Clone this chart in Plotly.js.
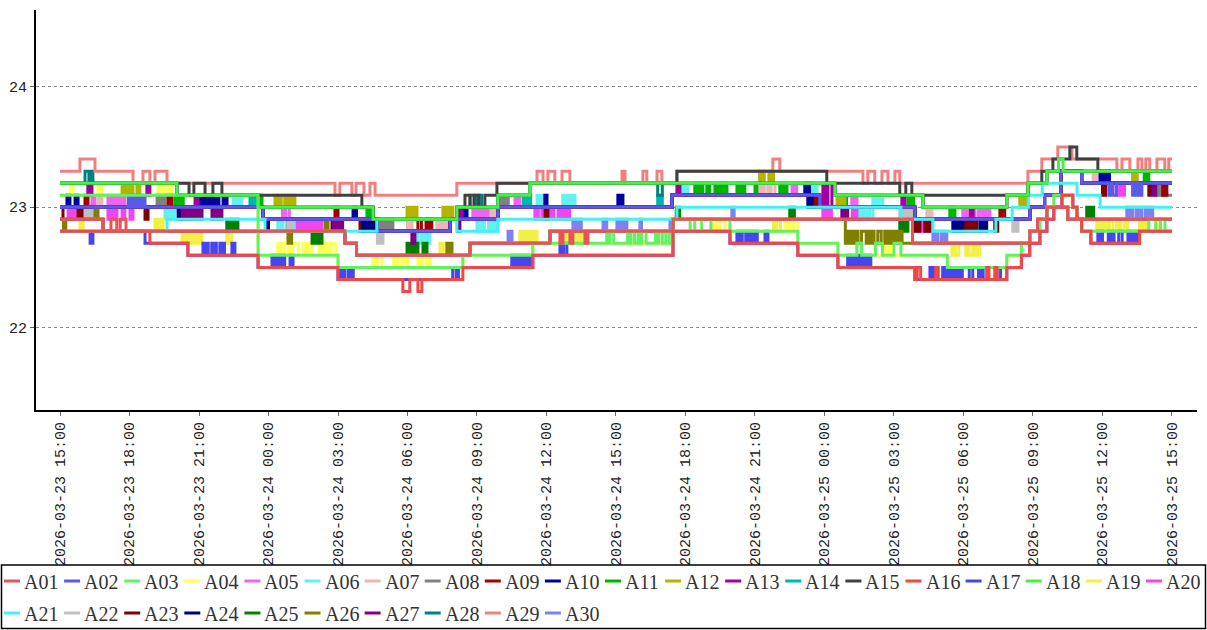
<!DOCTYPE html>
<html><head><meta charset="utf-8">
<script src="https://cdn.plot.ly/plotly-3.0.1.min.js"></script>
<style>html,body{margin:0;padding:0;background:#fff}#chart{width:1207px;height:630px}</style>
</head><body><div id="chart"></div>
<script>
// ---- data: [hours since 2026-03-23 15:00, value] step points ----
const A01 = [[0,22.9],[1.86,22.8],[2.2,22.9],[2.45,22.8],[2.6,22.9],[2.85,22.8],[12.3,22.7],[12.8,22.6],[17.7,22.7],[21.15,22.8],[21.58,22.7],[21.71,22.8],[22.01,22.7],[22.14,22.8],[22.66,22.7],[22.79,22.8],[26.46,22.9],[36.8,22.7],[41.86,22.8],[42.2,22.9],[42.6,23.0],[43.5,22.9],[48,22.9]];
const A02 = [[0,23.0],[2.95,23.1],[3.02,23.0],[3.07,23.1],[3.12,23.0],[3.17,23.1],[3.25,23.0],[3.3,23.1],[3.38,23.0],[3.45,23.1],[3.52,23.0],[3.58,23.1],[3.67,23.0],[8.76,22.9],[13.68,22.8],[16.83,22.9],[18.9,23.0],[26.41,23.1],[32.8,23.0],[36.9,22.9],[41.86,23.0],[42.5,23.1],[43.2,23.3],[44.1,23.2],[45.3,23.1],[45.38,23.2],[45.45,23.1],[45.6,23.2],[46.3,23.1],[46.38,23.2],[46.45,23.1],[46.55,23.2],[46.62,23.1],[46.7,23.2],[48,23.2]];
const A03 = [[0,23.1],[8.55,22.6],[12.0,22.5],[17.39,22.6],[20.41,22.7],[23.6,22.8],[23.68,22.7],[23.75,22.8],[23.9,22.7],[24.5,22.8],[24.58,22.7],[24.65,22.8],[24.8,22.7],[24.95,22.8],[25.05,22.7],[25.12,22.8],[25.3,22.7],[25.7,22.8],[25.78,22.7],[25.85,22.8],[26.0,22.7],[26.15,22.8],[26.3,22.7],[26.46,22.9],[27.2,22.8],[27.4,22.9],[27.7,22.8],[28.1,22.9],[28.92,22.8],[31.85,22.7],[33.58,22.6],[34.4,22.7],[34.6,22.6],[35.2,22.7],[35.5,22.6],[36.0,22.7],[36.3,22.6],[38.3,22.5],[40.87,22.6],[41.5,22.7],[41.86,22.8],[42.3,22.9],[42.6,23.0],[42.9,23.1],[43.7,23.0],[43.9,22.9],[44.1,22.8],[47.0,22.9],[47.3,22.8],[47.5,22.9],[47.7,22.8],[48,22.8]];
const A04 = [[0,23.1],[0.45,23.2],[0.5,23.1],[0.53,23.2],[0.56,23.1],[1.64,23.2],[1.7,23.1],[1.74,23.2],[1.8,23.1],[4.23,23.2],[4.3,23.1],[4.35,23.2],[4.42,23.1],[4.5,23.2],[4.58,23.1],[4.63,23.2],[4.72,23.1],[4.77,23.2],[4.83,23.1],[8.55,22.6],[9.4,22.7],[9.5,22.6],[9.55,22.7],[9.7,22.6],[9.85,22.7],[9.95,22.6],[10.05,22.7],[10.3,22.6],[10.5,22.7],[10.6,22.6],[10.7,22.7],[10.85,22.6],[11.2,22.7],[11.3,22.6],[11.4,22.7],[11.55,22.6],[11.7,22.7],[11.9,22.6],[12.0,22.5],[13.5,22.6],[13.6,22.5],[13.7,22.6],[13.9,22.5],[14.4,22.6],[14.5,22.5],[14.6,22.6],[14.75,22.5],[14.85,22.6],[15.0,22.5],[15.45,22.6],[15.55,22.5],[15.65,22.6],[15.8,22.5],[15.9,22.6],[16.0,22.5],[17.39,22.6],[20.41,22.7],[26.46,22.9],[28.1,22.8],[28.2,22.9],[28.3,22.8],[28.4,22.9],[28.5,22.8],[28.7,22.9],[28.92,22.8],[31.3,22.9],[31.4,22.8],[31.5,22.9],[31.6,22.8],[31.7,22.9],[31.85,22.7],[33.58,22.6],[35.6,22.7],[35.7,22.6],[35.8,22.7],[35.9,22.6],[38.3,22.5],[40.87,22.6],[41.5,22.7],[41.86,22.8],[42.3,22.9],[42.6,23.0],[42.9,23.1],[43.7,23.0],[43.9,22.9],[44.1,22.8],[47.3,22.9],[47.4,22.8],[47.45,22.9],[47.5,22.8],[48,22.8]];
const A05 = [[0,23.0],[1.38,23.1],[1.44,23.0],[1.47,23.1],[1.51,23.0],[2.07,23.1],[2.14,23.0],[2.2,23.1],[2.28,23.0],[2.34,23.1],[2.42,23.0],[2.48,23.1],[2.56,23.0],[2.62,23.1],[2.7,23.0],[2.75,23.1],[2.8,23.0],[8.76,22.9],[9.6,23.0],[9.68,22.9],[9.75,23.0],[9.9,22.9],[13.68,22.8],[16.83,22.9],[17.82,23.0],[17.9,22.9],[17.96,23.0],[18.04,22.9],[18.1,23.0],[18.18,22.9],[18.25,23.0],[18.33,22.9],[18.4,23.0],[18.48,22.9],[18.52,23.0],[18.56,22.9],[18.9,23.0],[19.64,23.1],[19.7,23.0],[19.76,23.1],[19.85,23.0],[26.41,23.1],[31.6,23.2],[31.66,23.1],[31.72,23.2],[31.8,23.1],[32.8,23.0],[34.18,23.1],[34.25,23.0],[34.32,23.1],[34.4,23.0],[36.9,22.9],[38.97,23.0],[39.05,22.9],[39.12,23.0],[39.2,22.9],[39.35,23.0],[39.5,22.9],[39.65,23.0],[39.72,22.9],[39.8,23.0],[39.88,22.9],[39.95,23.0],[40.05,22.9],[40.1,23.0],[40.14,22.9],[41.86,23.0],[42.5,23.1],[43.2,23.3],[44.1,23.2],[48,23.2]];
const A06 = [[0,23.0],[4.53,22.9],[4.62,23.0],[4.68,22.9],[4.75,23.0],[4.85,22.9],[4.96,23.0],[7.47,23.1],[7.54,23.0],[7.6,23.1],[7.65,23.0],[7.72,23.1],[7.78,23.0],[7.82,23.1],[7.85,23.0],[8.76,22.9],[9.4,22.8],[9.48,22.9],[9.55,22.8],[9.6,22.9],[9.75,22.8],[9.85,22.9],[9.92,22.8],[10.0,22.9],[10.1,22.8],[10.27,22.9],[13.68,22.8],[15.32,22.7],[15.4,22.8],[15.46,22.7],[15.6,22.8],[15.7,22.7],[15.8,22.8],[15.88,22.7],[15.97,22.8],[16.83,22.9],[18.0,22.8],[18.08,22.9],[18.15,22.8],[18.25,22.9],[18.32,22.8],[18.5,22.9],[18.6,22.8],[18.7,22.9],[18.8,22.8],[18.9,23.0],[20.59,23.1],[20.68,23.0],[20.75,23.1],[20.85,23.0],[20.92,23.1],[21.02,23.0],[21.7,23.1],[21.78,23.0],[21.85,23.1],[21.95,23.0],[22.02,23.1],[22.1,23.0],[22.16,23.1],[22.23,23.0],[26.41,23.1],[26.85,23.2],[26.92,23.1],[27.0,23.2],[27.1,23.1],[32.28,23.2],[32.36,23.1],[32.44,23.2],[32.52,23.1],[32.6,23.2],[32.68,23.1],[32.8,23.0],[34.4,22.9],[34.48,23.0],[34.56,22.9],[34.65,23.0],[34.75,22.9],[34.85,23.0],[34.95,22.9],[35.09,23.1],[35.17,23.0],[35.25,23.1],[35.33,23.0],[35.4,23.1],[35.52,23.0],[36.9,22.9],[41.86,23.0],[42.5,23.1],[43.2,23.3],[44.1,23.2],[47.2,23.1],[47.28,23.2],[47.35,23.1],[47.45,23.2],[47.52,23.1],[47.6,23.2],[48,23.2]];
const A07 = [[0,23.0],[1.64,23.1],[1.7,23.0],[1.75,23.1],[1.81,23.0],[8.76,22.9],[13.68,22.8],[15.0,22.9],[15.07,22.8],[15.13,22.9],[15.2,22.8],[16.27,22.9],[16.35,22.8],[16.42,22.9],[16.5,22.8],[16.58,22.9],[16.7,22.8],[16.83,22.9],[18.6,23.0],[18.7,22.9],[18.75,23.0],[18.8,22.9],[18.9,23.0],[26.41,23.1],[30.12,23.2],[30.2,23.1],[30.28,23.2],[30.4,23.1],[30.55,23.2],[30.63,23.1],[30.7,23.2],[30.86,23.1],[32.8,23.0],[36.9,22.9],[37.42,23.0],[37.5,22.9],[37.56,23.0],[37.64,22.9],[41.86,23.0],[42.5,23.1],[43.2,23.3],[44.1,23.2],[44.6,23.3],[44.68,23.2],[44.72,23.3],[44.75,23.2],[48,23.2]];
const A08 = [[0,23.0],[4.19,23.1],[4.26,23.0],[4.32,23.1],[4.38,23.0],[4.44,23.1],[4.53,23.0],[8.76,22.9],[9.84,22.8],[9.92,22.9],[9.96,22.8],[10.0,22.9],[13.68,22.8],[13.8,22.9],[13.88,22.8],[13.95,22.9],[14.03,22.8],[14.1,22.9],[14.2,22.8],[14.28,22.9],[14.37,22.8],[16.83,22.9],[18.9,23.0],[19.0,23.1],[19.08,23.0],[19.15,23.1],[19.22,23.0],[19.3,23.1],[19.35,23.0],[26.41,23.1],[32.8,23.0],[36.9,22.9],[41.86,23.0],[42.5,23.1],[43.2,23.3],[44.1,23.2],[47.4,23.1],[47.5,23.2],[47.56,23.1],[47.62,23.2],[47.7,23.1],[48,23.1]];
const A09 = [[0,23.0],[1.08,23.1],[1.14,23.0],[1.18,23.1],[1.21,23.0],[4.66,23.1],[4.73,23.0],[4.78,23.1],[4.83,23.0],[8.76,22.9],[11.87,23.0],[11.93,22.9],[11.96,23.0],[12.0,22.9],[13.68,22.8],[15.45,22.9],[15.6,22.8],[15.8,22.9],[15.9,22.8],[15.97,22.9],[16.05,22.8],[16.83,22.9],[18.9,23.0],[26.41,23.1],[32.5,23.0],[32.58,23.1],[32.65,23.0],[32.72,23.1],[32.8,23.0],[36.9,22.9],[40.57,23.0],[40.65,22.9],[40.7,23.0],[40.78,22.9],[41.86,23.0],[42.5,23.1],[43.2,23.3],[44.1,23.2],[47.6,23.1],[47.68,23.2],[47.72,23.1],[47.78,23.2],[48,23.2]];
const A10 = [[0,23.0],[0.3,23.1],[0.36,23.0],[0.4,23.1],[0.43,23.0],[0.65,23.1],[0.71,23.0],[0.74,23.1],[0.78,23.0],[5.96,23.1],[6.03,23.0],[6.08,23.1],[6.14,23.0],[6.2,23.1],[6.26,23.0],[6.3,23.1],[6.38,23.0],[6.44,23.1],[6.56,23.0],[6.69,23.1],[6.76,23.0],[6.82,23.1],[6.86,23.0],[7.04,23.1],[7.1,23.0],[7.15,23.1],[7.21,23.0],[8.76,22.9],[12.65,23.0],[12.7,22.9],[12.75,23.0],[12.8,22.9],[13.68,22.8],[16.83,22.9],[17.39,23.0],[17.45,22.9],[17.5,23.0],[17.57,22.9],[18.9,23.0],[20.93,23.1],[21.02,23.0],[24.08,23.1],[24.14,23.0],[24.2,23.1],[24.3,23.0],[26.41,23.1],[32.15,23.2],[32.22,23.1],[32.28,23.2],[32.35,23.1],[32.8,23.0],[36.9,22.9],[41.86,23.0],[42.5,23.1],[43.2,23.3],[44.1,23.2],[44.89,23.3],[44.96,23.2],[45.02,23.3],[45.1,23.2],[45.2,23.3],[45.3,23.2],[48,23.2]];
const A11 = [[0,23.0],[4.96,23.1],[5.04,23.0],[5.1,23.1],[5.18,23.0],[5.27,23.1],[5.32,23.0],[8.63,23.1],[8.72,23.0],[8.76,22.9],[13.25,23.0],[13.32,22.9],[13.4,23.0],[13.5,22.9],[13.68,22.8],[16.83,22.9],[18.9,23.0],[26.41,23.1],[27.4,23.2],[27.48,23.1],[27.55,23.2],[27.63,23.1],[27.68,23.2],[27.75,23.1],[27.92,23.2],[28.05,23.1],[28.27,23.2],[28.35,23.1],[28.42,23.2],[28.5,23.1],[28.6,23.2],[28.68,23.1],[28.74,23.2],[28.79,23.1],[29.22,23.2],[29.3,23.1],[29.38,23.2],[29.46,23.1],[29.5,23.2],[29.56,23.1],[30.0,23.2],[30.08,23.1],[31.07,23.2],[31.15,23.1],[31.22,23.2],[31.3,23.1],[31.35,23.2],[31.38,23.1],[32.8,23.0],[33.6,23.1],[33.68,23.0],[33.75,23.1],[33.82,23.0],[33.9,23.1],[33.95,23.0],[36.6,23.1],[36.7,23.0],[36.78,23.1],[36.85,23.0],[36.9,22.9],[38.41,23.0],[38.5,22.9],[38.56,23.0],[38.63,22.9],[41.86,23.0],[42.5,23.1],[43.2,23.3],[44.1,23.2],[46.8,23.3],[46.87,23.2],[46.94,23.3],[47.0,23.2],[48,23.2]];
const A12 = [[0,23.2],[2.68,23.1],[2.75,23.2],[2.8,23.1],[2.9,23.2],[3.0,23.1],[3.08,23.2],[3.12,23.1],[3.15,23.2],[3.32,23.1],[3.38,23.2],[3.42,23.1],[3.45,23.2],[5.05,23.1],[8.55,23.0],[9.28,23.1],[9.35,23.0],[9.42,23.1],[9.55,23.0],[9.7,23.1],[9.78,23.0],[9.85,23.1],[9.95,23.0],[10.05,23.1],[10.14,23.0],[13.51,22.9],[14.98,23.0],[15.06,22.9],[15.13,23.0],[15.22,22.9],[15.3,23.0],[15.41,22.9],[16.53,23.0],[16.6,22.9],[16.68,23.0],[16.76,22.9],[16.85,23.0],[16.96,22.9],[17.13,23.0],[18.9,23.1],[20.28,23.2],[30.2,23.3],[30.28,23.2],[30.34,23.3],[30.4,23.2],[30.6,23.3],[30.68,23.2],[30.75,23.3],[30.8,23.2],[33.45,23.1],[33.54,23.0],[33.62,23.1],[33.7,23.0],[33.8,23.1],[33.84,23.0],[33.88,23.1],[37.25,23.0],[40.87,23.1],[41.43,23.0],[41.5,23.1],[41.58,23.0],[41.66,23.1],[41.7,23.0],[41.74,23.1],[41.78,23.2],[42.6,23.3],[46.3,23.2],[46.38,23.3],[46.44,23.2],[46.5,23.3],[48,23.3]];
const A13 = [[0,23.2],[1.2,23.1],[1.26,23.2],[1.32,23.1],[1.38,23.2],[3.75,23.1],[3.82,23.2],[3.85,23.1],[3.88,23.2],[5.05,23.1],[5.83,23.0],[5.9,23.1],[5.93,23.0],[5.96,23.1],[8.55,23.0],[13.51,22.9],[17.13,23.0],[17.18,22.9],[17.26,23.0],[17.3,22.9],[17.35,23.0],[18.9,23.1],[20.28,23.2],[26.63,23.1],[26.7,23.2],[26.73,23.1],[26.76,23.2],[32.93,23.0],[33.05,23.2],[33.15,23.0],[33.32,23.2],[33.45,23.1],[36.34,23.0],[36.4,23.1],[36.44,23.0],[36.47,23.1],[37.25,23.0],[39.3,22.9],[39.36,23.0],[39.39,22.9],[39.42,23.0],[40.87,23.1],[41.78,23.2],[42.6,23.3],[48,23.3]];
const A14 = [[0,23.0],[8.2,23.1],[8.27,23.0],[8.35,23.1],[8.42,23.0],[8.48,23.1],[8.55,23.0],[8.76,22.9],[13.68,22.8],[16.83,22.9],[18.9,23.0],[20.0,23.1],[20.07,23.0],[20.14,23.1],[20.21,23.0],[20.28,23.1],[20.32,23.0],[25.8,23.1],[25.86,23.0],[25.92,23.1],[26.0,23.0],[26.41,23.1],[32.8,23.0],[36.9,22.9],[41.86,23.0],[42.5,23.1],[43.2,23.3],[44.1,23.2],[48,23.2]];
const A15 = [[0,23.2],[5.57,23.1],[5.78,23.2],[6.26,23.1],[6.6,23.2],[6.99,23.1],[13.03,23.0],[13.51,22.9],[17.13,23.0],[17.48,23.1],[17.7,23.0],[17.87,23.1],[18.08,23.0],[18.34,23.1],[18.86,23.2],[26.63,23.3],[33.1,23.2],[36.25,23.1],[36.51,23.2],[36.77,23.1],[41.78,23.2],[42.38,23.3],[42.86,23.4],[43.59,23.5],[43.89,23.4],[44.8,23.3],[48,23.3]];
const A16 = [[0,22.8],[3.88,22.7],[5.52,22.6],[8.55,22.5],[12.0,22.4],[14.8,22.3],[15.1,22.4],[15.45,22.3],[15.62,22.4],[17.39,22.5],[20.41,22.6],[26.46,22.8],[28.92,22.7],[31.85,22.6],[33.58,22.5],[36.9,22.4],[37.0,22.5],[37.15,22.4],[37.8,22.5],[37.9,22.4],[40.0,22.5],[40.1,22.4],[40.35,22.5],[40.45,22.4],[40.87,22.5],[41.5,22.6],[41.86,22.7],[42.3,22.8],[42.6,22.9],[42.9,23.0],[43.25,23.1],[43.72,23.0],[43.9,22.9],[44.1,22.8],[44.5,22.7],[46.6,22.8],[48,22.8]];
const A17 = [[0,22.8],[1.3,22.7],[1.42,22.8],[3.67,22.7],[5.52,22.6],[6.17,22.7],[6.25,22.6],[6.32,22.7],[6.4,22.6],[6.55,22.7],[6.62,22.6],[6.68,22.7],[6.75,22.6],[6.9,22.7],[6.98,22.6],[7.04,22.7],[7.1,22.6],[7.42,22.7],[7.55,22.6],[8.55,22.5],[9.15,22.6],[9.22,22.5],[9.3,22.6],[9.38,22.5],[9.45,22.6],[9.55,22.5],[9.62,22.6],[9.7,22.5],[9.93,22.6],[10.06,22.5],[12.0,22.4],[12.1,22.5],[12.18,22.4],[12.24,22.5],[12.3,22.4],[12.45,22.5],[12.52,22.4],[12.6,22.5],[12.66,22.4],[16.95,22.5],[17.1,22.4],[17.2,22.5],[19.5,22.6],[19.58,22.5],[19.65,22.6],[19.72,22.5],[19.8,22.6],[19.9,22.5],[19.98,22.6],[20.06,22.5],[20.14,22.6],[20.22,22.5],[20.3,22.6],[20.36,22.5],[20.41,22.6],[21.58,22.7],[21.66,22.6],[21.74,22.7],[21.88,22.6],[26.46,22.8],[28.92,22.7],[29.22,22.8],[29.3,22.7],[29.38,22.8],[29.45,22.7],[29.6,22.8],[29.68,22.7],[29.74,22.8],[29.8,22.7],[29.9,22.8],[29.98,22.7],[30.04,22.8],[30.1,22.7],[30.43,22.8],[30.56,22.7],[31.85,22.6],[33.58,22.5],[34.0,22.6],[34.08,22.5],[34.14,22.6],[34.22,22.5],[34.3,22.6],[34.36,22.5],[34.45,22.6],[34.55,22.5],[34.62,22.6],[34.7,22.5],[34.78,22.6],[34.86,22.5],[34.92,22.6],[35.0,22.5],[36.9,22.4],[37.55,22.5],[37.62,22.4],[37.7,22.5],[37.78,22.4],[37.85,22.5],[37.9,22.4],[38.1,22.5],[38.2,22.4],[38.28,22.5],[38.36,22.4],[38.44,22.5],[38.52,22.4],[38.6,22.5],[38.68,22.4],[38.76,22.5],[38.84,22.4],[38.9,22.5],[38.95,22.4],[39.25,22.5],[39.4,22.4],[39.65,22.5],[39.72,22.4],[39.78,22.5],[39.85,22.4],[40.45,22.5],[40.6,22.4],[40.87,22.5],[41.5,22.6],[41.86,22.7],[42.3,22.8],[42.6,22.9],[42.9,23.0],[43.25,23.1],[43.72,23.0],[43.9,22.9],[44.1,22.8],[44.5,22.7],[44.8,22.8],[44.88,22.7],[44.94,22.8],[45.0,22.7],[45.25,22.8],[45.32,22.7],[45.4,22.8],[45.5,22.7],[45.7,22.8],[45.85,22.7],[46.1,22.8],[46.18,22.7],[46.25,22.8],[46.32,22.7],[46.4,22.8],[46.5,22.7],[46.6,22.8],[48,22.8]];
const A18 = [[0,23.2],[5.05,23.1],[8.55,23.0],[13.51,22.9],[17.13,23.0],[18.9,23.1],[20.28,23.2],[33.45,23.1],[37.25,23.0],[40.87,23.1],[41.78,23.2],[42.6,23.3],[43.1,23.4],[43.3,23.3],[48,23.3]];
const A19 = [[0,22.9],[0.86,22.8],[0.92,22.9],[0.96,22.8],[1.0,22.9],[1.86,22.8],[4.1,22.9],[4.18,22.8],[4.25,22.9],[4.32,22.8],[4.4,22.9],[4.45,22.8],[5.27,22.7],[5.35,22.8],[5.42,22.7],[5.5,22.8],[5.58,22.7],[5.66,22.8],[5.75,22.7],[5.85,22.8],[5.92,22.7],[6.02,22.8],[6.08,22.7],[6.13,22.8],[7.2,22.7],[7.3,22.8],[7.35,22.7],[7.4,22.8],[12.3,22.7],[12.8,22.6],[16.4,22.7],[16.48,22.6],[16.55,22.7],[16.7,22.6],[17.7,22.7],[19.85,22.8],[19.95,22.7],[20.02,22.8],[20.1,22.7],[20.2,22.8],[20.3,22.7],[20.35,22.8],[20.45,22.7],[20.5,22.8],[20.59,22.7],[21.15,22.8],[21.7,22.7],[21.78,22.8],[21.85,22.7],[21.95,22.8],[22.0,22.7],[22.1,22.8],[22.2,22.7],[22.3,22.8],[22.4,22.7],[22.5,22.8],[22.6,22.7],[22.75,22.8],[26.46,22.9],[30.8,22.8],[30.88,22.9],[30.95,22.8],[31.1,22.9],[36.8,22.7],[38.5,22.6],[38.58,22.7],[38.65,22.6],[38.8,22.7],[39.1,22.6],[39.18,22.7],[39.25,22.6],[39.4,22.7],[39.5,22.6],[39.58,22.7],[39.64,22.6],[39.7,22.7],[41.86,22.8],[42.2,22.9],[42.6,23.0],[43.5,22.9],[44.75,22.8],[44.85,22.9],[44.92,22.8],[45.0,22.9],[45.1,22.8],[45.2,22.9],[45.3,22.8],[45.45,22.9],[45.6,22.8],[45.7,22.9],[45.8,22.8],[45.95,22.9],[46.02,22.8],[46.1,22.9],[46.6,22.8],[46.7,22.9],[46.78,22.8],[46.86,22.9],[46.9,22.8],[46.95,22.9],[48,22.9]];
const A20 = [[0,23.0],[0.35,22.9],[0.42,23.0],[0.48,22.9],[0.55,23.0],[0.62,22.9],[0.73,23.0],[2.07,22.9],[2.14,23.0],[2.2,22.9],[2.28,23.0],[2.34,22.9],[2.46,23.0],[2.68,22.9],[2.8,23.0],[3.02,22.9],[3.15,23.0],[8.76,22.9],[10.23,22.8],[10.3,22.9],[10.37,22.8],[10.45,22.9],[10.5,22.8],[10.6,22.9],[10.65,22.8],[10.75,22.9],[10.85,22.8],[10.95,22.9],[11.0,22.8],[11.1,22.9],[11.2,22.8],[11.3,22.9],[13.68,22.8],[16.83,22.9],[18.9,23.0],[20.5,22.9],[20.58,23.0],[20.65,22.9],[20.8,23.0],[21.0,22.9],[21.08,23.0],[21.15,22.9],[21.25,23.0],[21.32,22.9],[21.5,23.0],[21.6,22.9],[21.68,23.0],[21.75,22.9],[21.85,23.0],[21.92,22.9],[22.0,23.0],[26.41,23.1],[32.8,23.0],[32.93,22.9],[33.0,23.0],[33.08,22.9],[33.15,23.0],[33.22,22.9],[33.3,23.0],[34.2,22.9],[34.28,23.0],[34.34,22.9],[34.4,23.0],[36.9,22.9],[37.0,22.8],[37.08,22.9],[37.15,22.8],[37.25,22.9],[37.32,22.8],[37.42,22.9],[37.5,22.8],[37.6,22.9],[41.86,23.0],[42.5,23.1],[43.2,23.3],[44.1,23.2],[45.6,23.1],[45.68,23.2],[45.75,23.1],[45.82,23.2],[45.9,23.1],[45.95,23.2],[48,23.2]];
const A21 = [[0,22.8],[4.62,22.9],[8.85,22.8],[13.68,22.9],[17.13,22.8],[18.9,22.9],[26.63,23.0],[36.3,22.9],[37.68,22.8],[40.4,22.9],[41.1,23.0],[41.8,23.1],[42.4,23.2],[43.9,23.1],[44.9,23.0],[48,23.0]];
const A22 = [[0,23.0],[1.0,22.9],[1.07,23.0],[1.13,22.9],[1.2,23.0],[1.25,22.9],[1.32,23.0],[1.38,22.9],[1.51,23.0],[8.76,22.9],[9.84,22.8],[9.92,22.9],[10.0,22.8],[10.05,22.9],[13.68,22.8],[13.7,22.7],[13.78,22.8],[13.86,22.7],[13.94,22.8],[16.83,22.9],[17.15,22.8],[17.26,22.9],[18.9,23.0],[26.41,23.1],[32.8,23.0],[36.25,22.9],[36.33,23.0],[36.4,22.9],[36.5,23.0],[36.58,22.9],[36.66,23.0],[36.72,22.9],[36.8,23.0],[36.9,22.9],[41.13,22.8],[41.2,22.9],[41.27,22.8],[41.35,22.9],[41.86,23.0],[42.5,23.1],[43.2,23.3],[44.1,23.2],[48,23.2]];
const A23 = [[0,22.9],[0.13,23.0],[0.78,22.9],[0.86,23.0],[0.9,22.9],[0.95,23.0],[3.67,22.9],[3.74,23.0],[3.77,22.9],[3.8,23.0],[8.76,22.9],[11.74,22.8],[11.82,22.9],[11.9,22.8],[12.0,22.9],[12.95,22.8],[13.08,22.9],[13.68,22.8],[16.83,22.9],[18.9,23.0],[20.93,22.9],[21.0,23.0],[21.03,22.9],[21.06,23.0],[26.41,23.1],[32.5,23.0],[36.9,22.8],[37.0,22.9],[37.06,22.8],[37.12,22.9],[37.33,22.8],[37.44,22.9],[37.5,22.8],[37.55,22.9],[39.06,22.8],[39.14,22.9],[39.2,22.8],[39.3,22.9],[39.4,22.8],[39.48,22.9],[39.53,22.8],[39.58,22.9],[40.35,22.8],[40.42,22.9],[40.45,22.8],[40.48,22.9],[41.86,23.0],[42.5,23.1],[43.2,23.3],[44.1,23.2],[45.0,23.1],[45.08,23.2],[45.12,23.1],[45.15,23.2],[47.0,23.1],[47.08,23.2],[48,23.2]];
const A24 = [[0,23.0],[5.1,22.9],[5.16,23.0],[5.22,22.9],[5.27,23.0],[8.76,22.9],[8.93,22.8],[9.0,22.9],[13.08,22.8],[13.14,22.9],[13.2,22.8],[13.3,22.9],[13.36,22.8],[13.44,22.9],[13.5,22.8],[13.55,22.9],[13.68,22.8],[16.83,22.9],[18.9,23.0],[26.41,23.1],[32.28,23.0],[32.34,23.1],[32.4,23.0],[32.46,23.1],[32.8,23.0],[36.9,22.9],[38.54,22.8],[38.6,22.9],[38.65,22.8],[38.7,22.9],[38.8,22.8],[38.86,22.9],[38.92,22.8],[38.97,22.9],[39.71,22.8],[39.78,22.9],[39.85,22.8],[39.92,22.9],[39.96,22.8],[40.0,22.9],[41.86,23.0],[42.5,23.1],[43.2,23.3],[44.1,23.2],[48,23.2]];
const A25 = [[0,22.9],[1.86,22.8],[7.2,22.9],[7.26,22.8],[7.3,22.9],[7.36,22.8],[7.42,22.9],[7.5,22.8],[7.55,22.9],[7.6,22.8],[7.64,22.9],[7.68,22.8],[10.88,22.7],[10.94,22.8],[11.0,22.7],[11.06,22.8],[11.1,22.7],[11.18,22.8],[11.24,22.7],[11.31,22.8],[12.3,22.7],[12.8,22.6],[14.98,22.7],[15.05,22.6],[15.12,22.7],[15.2,22.6],[15.3,22.7],[15.36,22.6],[15.41,22.7],[15.45,22.6],[15.67,22.7],[15.75,22.6],[15.8,22.7],[15.84,22.6],[17.7,22.7],[21.15,22.8],[26.46,22.9],[26.6,23.0],[26.66,22.9],[26.7,23.0],[26.75,22.9],[31.5,23.0],[31.56,22.9],[31.62,23.0],[31.7,22.9],[36.25,22.8],[36.32,22.9],[36.38,22.8],[36.45,22.9],[36.52,22.8],[36.6,22.9],[36.8,22.7],[41.86,22.8],[42.2,22.9],[42.6,23.0],[43.5,22.9],[44.32,23.0],[44.4,22.9],[44.46,23.0],[44.52,22.9],[44.58,23.0],[44.62,22.9],[48,22.9]];
const A26 = [[0,22.9],[0.15,22.8],[0.25,22.9],[1.51,23.0],[1.58,22.9],[1.61,23.0],[1.64,22.9],[1.86,22.8],[9.84,22.7],[9.92,22.8],[9.96,22.7],[10.0,22.8],[11.44,22.9],[11.57,22.8],[12.3,22.7],[12.8,22.6],[16.7,22.7],[16.78,22.6],[16.85,22.7],[16.92,22.6],[17.7,22.7],[21.15,22.8],[26.46,22.9],[33.9,22.7],[34.0,22.8],[34.08,22.7],[34.2,22.8],[34.3,22.7],[34.38,22.8],[34.45,22.7],[34.6,22.8],[34.8,22.7],[34.9,22.8],[34.98,22.7],[35.06,22.8],[35.14,22.7],[35.3,22.8],[35.45,22.7],[35.6,22.8],[35.68,22.7],[35.75,22.8],[35.8,22.7],[35.9,22.8],[35.98,22.7],[36.1,22.8],[36.2,22.7],[36.3,22.8],[36.35,22.7],[41.86,22.8],[42.2,22.9],[42.6,23.0],[43.5,22.9],[48,22.9]];
const A27 = [[0,23.0],[5.27,22.9],[5.35,23.0],[5.42,22.9],[5.5,23.0],[5.6,22.9],[5.68,23.0],[5.75,22.9],[5.85,23.0],[5.95,22.9],[6.05,23.0],[6.1,22.9],[6.13,23.0],[6.56,22.9],[6.64,23.0],[6.7,22.9],[6.8,23.0],[6.86,22.9],[6.99,23.0],[8.76,22.9],[11.8,22.8],[11.9,22.9],[11.98,22.8],[12.08,22.9],[12.14,22.8],[12.2,22.9],[13.68,22.8],[15.19,22.7],[15.25,22.8],[15.28,22.7],[15.32,22.8],[16.83,22.9],[17.18,22.8],[17.26,22.9],[18.9,23.0],[26.41,23.1],[32.8,23.0],[33.75,22.9],[33.82,23.0],[33.88,22.9],[34.0,23.0],[36.9,22.9],[41.86,23.0],[42.5,23.1],[43.2,23.3],[44.1,23.2],[47.2,23.1],[47.25,23.2],[47.28,23.1],[47.3,23.2],[48,23.2]];
const A28 = [[0,23.2],[1.08,23.3],[1.25,23.2],[1.3,23.3],[1.42,23.2],[5.05,23.1],[8.55,23.0],[13.51,22.9],[17.13,23.0],[17.7,23.1],[17.9,23.0],[18.0,23.1],[18.2,23.0],[18.9,23.1],[20.28,23.2],[25.8,23.1],[26.0,23.2],[33.45,23.1],[37.25,23.0],[40.87,23.1],[41.78,23.2],[42.6,23.3],[48,23.3]];
const A29 = [[0,23.3],[0.86,23.4],[1.51,23.3],[3.15,23.2],[3.58,23.3],[3.88,23.2],[4.1,23.3],[4.62,23.2],[11.87,23.1],[12.08,23.2],[12.6,23.1],[12.78,23.2],[13.12,23.1],[13.38,23.2],[13.6,23.1],[17.13,23.2],[20.59,23.3],[20.85,23.2],[21.06,23.3],[21.36,23.2],[21.67,23.3],[22.01,23.2],[24.26,23.3],[24.39,23.2],[25.16,23.3],[25.33,23.2],[25.77,23.3],[25.98,23.2],[26.63,23.3],[30.77,23.4],[31.07,23.3],[34.66,23.2],[34.87,23.3],[35.17,23.2],[35.48,23.3],[35.74,23.2],[36.04,23.3],[36.25,23.2],[41.78,23.3],[42.38,23.4],[43.07,23.5],[43.68,23.4],[45.62,23.3],[45.84,23.4],[46.18,23.3],[46.53,23.4],[46.7,23.3],[46.87,23.4],[47.04,23.3],[47.35,23.4],[47.69,23.3],[47.86,23.4],[48,23.4]];
const A30 = [[0,22.9],[1.86,22.8],[12.3,22.7],[12.8,22.6],[17.7,22.7],[19.34,22.8],[19.42,22.7],[19.46,22.8],[19.51,22.7],[21.15,22.8],[22.14,22.9],[22.22,22.8],[22.3,22.9],[22.36,22.8],[22.44,22.9],[22.5,22.8],[23.44,22.9],[23.52,22.8],[23.56,22.9],[23.6,22.8],[24.04,22.9],[24.1,22.8],[24.16,22.9],[24.2,22.8],[24.3,22.9],[24.38,22.8],[24.42,22.9],[24.47,22.8],[25.03,22.9],[25.1,22.8],[26.33,22.9],[29.0,23.0],[29.1,22.9],[36.8,22.7],[37.68,22.8],[37.75,22.7],[37.82,22.8],[37.9,22.7],[38.05,22.8],[38.12,22.7],[38.2,22.8],[38.28,22.7],[41.86,22.8],[42.2,22.9],[42.6,23.0],[43.5,22.9],[46.05,23.0],[46.12,22.9],[46.18,23.0],[46.3,22.9],[46.45,23.0],[46.52,22.9],[46.6,23.0],[46.7,22.9],[46.85,23.0],[46.92,22.9],[47.0,23.0],[47.08,22.9],[47.12,23.0],[47.17,22.9],[48,22.9]];

const seriesNames = ['A01','A02','A03','A04','A05','A06','A07','A08','A09','A10','A11','A12','A13','A14','A15','A16','A17','A18','A19','A20','A21','A22','A23','A24','A25','A26','A27','A28','A29','A30'];
const seriesColors = ['#e85454','#5a5ae6','#64f064','#ffff5a','#f064f0','#64f0f0','#f0b4b4','#808080','#a00000','#0000a0','#00b400','#b4b400','#a000a0','#00b4b4','#404040','#f04848','#4646f0','#46f046','#f0f046','#f046f0','#46f0f0','#c0c0c0','#800000','#000080','#008000','#808000','#800080','#008080','#f08080','#8080f0'];
const xTickHours = [0,3,6,9,12,15,18,21,24,27,30,33,36,39,42,45,48];
const yTickValues = [22,23,24];
const drawOrder = ['A04','A05','A06','A07','A08','A09','A10','A11','A12','A13','A14','A19','A20','A22','A23','A24','A25','A26','A27','A28','A30','A17','A02','A21','A03','A16','A01','A29','A15','A18'];

// ---- build ----
const dataByName = {A01,A02,A03,A04,A05,A06,A07,A08,A09,A10,A11,A12,A13,A14,A15,A16,A17,A18,A19,A20,A21,A22,A23,A24,A25,A26,A27,A28,A29,A30};
const baseMs = Date.UTC(2026,2,23,15,0,0);
function p2(n){return (n<10?'0':'')+n;}
function hToDate(h){
  const d = new Date(baseMs + Math.round(h*3600000));
  return d.getUTCFullYear()+'-'+p2(d.getUTCMonth()+1)+'-'+p2(d.getUTCDate())+' '+p2(d.getUTCHours())+':'+p2(d.getUTCMinutes())+':'+p2(d.getUTCSeconds());
}
const traces = drawOrder.map(function(name){
  const idx = seriesNames.indexOf(name);
  const pts = dataByName[name];
  return {
    type:'scatter', mode:'lines', name:name,
    x: pts.map(function(p){return hToDate(p[0]);}),
    y: pts.map(function(p){return p[1];}),
    line:{shape:'hv', width:3, color:seriesColors[idx]},
    hoverinfo:'skip', showlegend:false
  };
});

const W=1207,H=630,ML=36,MR=10,MT=10,MB=220;
const PW=W-ML-MR, PH=H-MT-MB;
function fx(px){return (px-ML)/PW;}
function fy(py){return (H-MB-py)/PH;}

const shapes=[{type:'rect',xref:'paper',yref:'paper',x0:fx(1.5),x1:fx(1205.5),y0:fy(628.5),y1:fy(565),line:{color:'#000',width:1.5},fillcolor:'rgba(0,0,0,0)'}];
const annotations=[];
seriesNames.forEach(function(name,i){
  const row = i<20?0:1, col = i%20;
  const yy = row===0?581:613;
  const x0 = 4+60.1*col;
  shapes.push({type:'line',xref:'paper',yref:'paper',x0:fx(x0),x1:fx(x0+16),y0:fy(yy),y1:fy(yy),line:{color:seriesColors[i],width:3}});
  annotations.push({xref:'paper',yref:'paper',x:fx(x0+18),y:fy(yy+0.5),xanchor:'left',yanchor:'middle',text:name,showarrow:false,font:{family:'Liberation Serif, serif',size:20,color:'#333'}});
});

const layout = {
  width:W, height:H,
  margin:{l:ML,r:MR,t:MT,b:MB,pad:0},
  paper_bgcolor:'#fff', plot_bgcolor:'#fff',
  showlegend:false, hovermode:false,
  xaxis:{
    type:'date', range:[hToDate(-1.036), hToDate(49.08)],
    tickmode:'array', tickvals:xTickHours.map(hToDate),
    tickformat:'%Y-%m-%d %H:%M', tickangle:-90,
    ticks:'outside', ticklen:4, tickcolor:'#666', tickwidth:1,
    showline:true, linecolor:'#000', linewidth:2,
    showgrid:false, zeroline:false,
    tickfont:{family:'Liberation Mono, monospace', size:15, color:'#222'}
  },
  yaxis:{
    range:[21.315,24.639], tickmode:'array', tickvals:yTickValues,
    ticks:'outside', ticklen:4, tickcolor:'#666',
    showline:true, linecolor:'#000', linewidth:2,
    showgrid:true, gridcolor:'#8a8a8a', griddash:'dot', gridwidth:1,
    zeroline:false,
    tickfont:{family:'Liberation Mono, monospace', size:15, color:'#222'}
  },
  shapes:shapes, annotations:annotations
};
Plotly.newPlot('chart', traces, layout, {staticPlot:true, displayModeBar:false});
</script>
</body></html>
